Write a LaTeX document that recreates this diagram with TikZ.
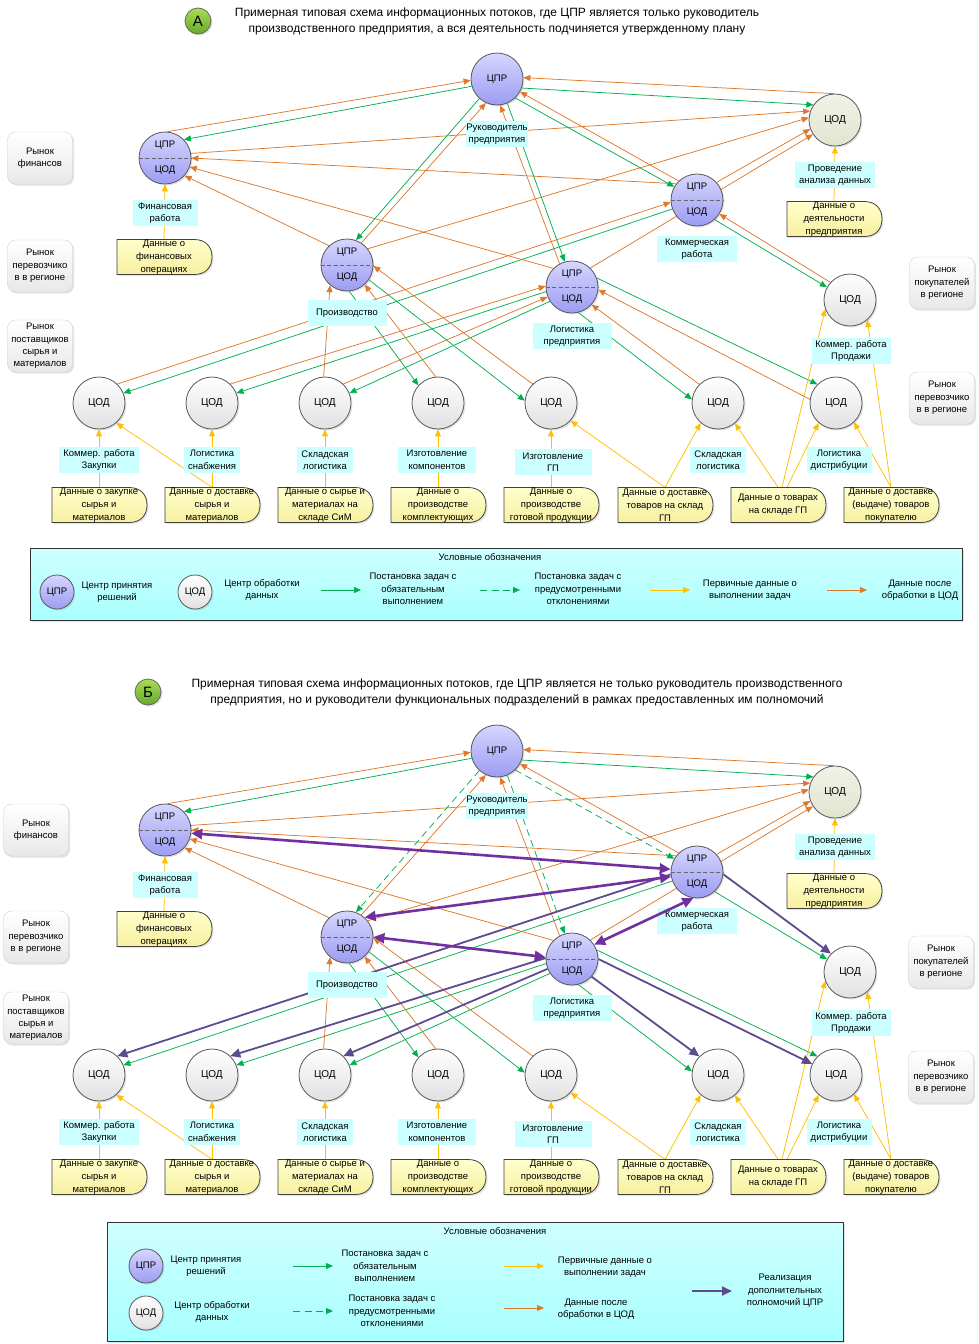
\documentclass[tikz,border=0pt]{standalone}
\usepackage{fontspec}
\setmainfont{Liberation Sans}
\usetikzlibrary{arrows.meta,shadows,calc}
\pgfdeclarelayer{bgl}
\pgfdeclarelayer{edges}
\pgfsetlayers{bgl,edges,main}
\definecolor{orng}{HTML}{DD7A2C}
\definecolor{grn}{HTML}{00B050}
\definecolor{ylw}{HTML}{FFC000}
\definecolor{purT}{HTML}{7030A0}
\definecolor{purM}{HTML}{5E4A8E}
\definecolor{lcyan}{HTML}{CCFFFF}
\definecolor{legc}{HTML}{A8FFFF}
\definecolor{cprT}{HTML}{D6D6FF}
\definecolor{cprB}{HTML}{9C9CF2}
\definecolor{anF}{HTML}{E2E4D0}
\definecolor{docT}{HTML}{FFFFCC}
\definecolor{docB}{HTML}{F7F0A0}
\definecolor{bdgT}{HTML}{A8DC55}
\definecolor{bdgB}{HTML}{66AA2C}
\tikzset{
 shd/.style={drop shadow={opacity=0.22, shadow xshift=1.5pt, shadow yshift=-1.5pt}},
 cprc/.style={circle, draw=black!65, line width=0.8pt, minimum size=52pt, inner sep=0pt, top color=cprT, bottom color=cprB, shd},
 codc/.style={circle, draw=black!65, line width=0.8pt, minimum size=52pt, inner sep=0pt, top color=white, bottom color=black!12, shd, font=\fontsize{10}{12}\selectfont},
 ctx/.style={inner sep=0pt, font=\fontsize{9.5}{12}\selectfont},
 lbl/.style={fill=lcyan, inner sep=0pt, align=center, minimum height=26pt},
 mkt/.style={rounded corners=8pt, draw=black!18, top color=white, bottom color=black!9, minimum width=65pt, minimum height=52pt, inner sep=0pt, align=center, shd, font=\fontsize{9.5}{12.3}\selectfont},
 docshape/.style={draw=black!75, line width=0.8pt, top color=docT, bottom color=docB, shd},
 doctext/.style={inner sep=0pt, minimum width=95pt, minimum height=35pt, align=center, font=\fontsize{9.5}{12.8}\selectfont},
 legbox/.style={draw=black!80, line width=1pt, top color=legc!55, bottom color=legc, shd},
 lt/.style={align=center, inner sep=0pt},
 ttl/.style={align=center, inner sep=0pt, font=\fontsize{12}{16}\selectfont},
 bdg/.style={circle, draw=black!60, line width=0.8pt, minimum size=26pt, inner sep=0pt, top color=bdgT, bottom color=bdgB, shd, font=\fontsize{15}{15}\selectfont},
 ar/.style={-{Triangle[length=7pt,width=6pt]}, line width=0.75pt},
 og/.style={ar, draw=orng, fill=none},
 gr/.style={ar, draw=grn},
 gd/.style={ar, draw=grn, dash pattern=on 7pt off 4.5pt},
 yl/.style={ar, draw=ylw},
 ptk/.style={{Triangle[length=11pt,width=10pt]}-{Triangle[length=11pt,width=10pt]}, draw=purT, line width=2.6pt},
 pmd/.style={-{Triangle[length=10pt,width=9pt]}, draw=purM, line width=1.8pt},
}
\newcommand\splitnode[3]{%
  \node[cprc] (#1) at (#2,#3) {};
  \draw[black!60, line width=0.9pt, dash pattern=on 4pt off 2.5pt] (#1.west) -- (#1.east);
  \node[ctx] (#1-t) at (#2,#3-12.5) {ЦПР};
  \node[ctx] (#1-b) at (#2,#3+12.5) {ЦОД};}
\newcommand\docnode[4]{%
  \path[docshape] (#2-47,#3-17.5) -- (#2+30,#3-17.5) .. controls (#2+42,#3-17.5) and (#2+48,#3-10) .. (#2+48,#3) .. controls (#2+48,#3+10) and (#2+42,#3+17.5) .. (#2+30,#3+17.5) -- (#2-47,#3+17.5) -- cycle;
  \node[doctext] (#1) at (#2,#3) {#4};}
\newcommand\commonpanel[1]{%
  \node[cprc, font=\fontsize{9.5}{12}\selectfont] (#1R) at (497,79) {ЦПР};
  \node[codc, top color=anF!50, bottom color=anF] (#1AN) at (835,120) {ЦОД};
  \splitnode{#1F}{165}{158}
  \splitnode{#1K}{697}{200}
  \splitnode{#1P}{347}{265}
  \splitnode{#1L}{572}{287}
  \node[codc] (#1S) at (850,300) {ЦОД};
  \node[codc] (#1B1) at (99,403) {ЦОД};
  \node[codc] (#1B2) at (212,403) {ЦОД};
  \node[codc] (#1B3) at (325,403) {ЦОД};
  \node[codc] (#1B4) at (438,403) {ЦОД};
  \node[codc] (#1B5) at (551,403) {ЦОД};
  \node[codc] (#1B6) at (718,403) {ЦОД};
  \node[codc] (#1B7) at (836,403) {ЦОД};
  \node[lbl, minimum width=62pt] (#1lR) at (497,134) {Руководитель\\предприятия};
  \node[lbl, minimum width=80pt] (#1lAN) at (835,175) {Проведение\\анализа данных};
  \node[lbl, minimum width=65pt] (#1lF) at (165,213) {Финансовая\\работа};
  \node[lbl, minimum width=80pt] (#1lK) at (697,249) {Коммерческая\\работа};
  \node[lbl, minimum width=79pt] (#1lP) at (347,313) {Производство};
  \node[lbl, minimum width=79pt] (#1lL) at (572,336) {Логистика\\предприятия};
  \node[lbl, minimum width=79pt] (#1lS) at (851,351) {Коммер. работа\\Продажи};
  \node[lbl, minimum width=80pt] (#1lB1) at (99,460) {Коммер. работа\\Закупки};
  \node[lbl, minimum width=56pt] (#1lB2) at (212,460) {Логистика\\снабжения};
  \node[lbl, minimum width=56pt] (#1lB3) at (325,460) {Складская\\логистика};
  \node[lbl, minimum width=78pt] (#1lB4) at (437,460) {Изготовление\\компонентов};
  \node[lbl, minimum width=77pt] (#1lB5) at (553,462) {Изготовление\\ГП};
  \node[lbl, minimum width=56pt] (#1lB6) at (718,460) {Складская\\логистика};
  \node[lbl, minimum width=65pt] (#1lB7) at (839,460) {Логистика\\дистрибуции};
  \docnode{#1dF}{164}{257}{Данные о\\финансовых\\операциях}
  \docnode{#1dAN}{834}{219}{Данные о\\деятельности\\предприятия}
  \docnode{#1d1}{99}{505}{Данные о закупке\\сырья и\\материалов}
  \docnode{#1d2}{212}{505}{Данные о доставке\\сырья и\\материалов}
  \docnode{#1d3}{325}{505}{Данные о сырье и\\материалах на\\складе СиМ}
  \docnode{#1d4}{438}{505}{Данные о\\производстве\\комплектующих}
  \docnode{#1d5}{551}{505}{Данные о\\производстве\\готовой продукции}
  \docnode{#1d6}{665}{505}{Данные о доставке\\товаров на склад\\ГП}
  \docnode{#1d7}{778}{505}{Данные о товарах\\на складе ГП}
  \docnode{#1d8}{891}{505}{Данные о доставке\\(выдаче) товаров\\покупателю}
}
\newcommand\commonedges[1]{%
  \draw[og] (#1F.85) -- (#1R.183);
  \draw[gr] (#1R.196) -- (#1F.44);
  \draw[og] (#1AN.93) -- (#1R.3);
  \draw[gr] (#1R.340) -- (#1AN.145);
  \draw[og] (#1K.134) -- (#1R.331);
  \draw[og] (#1L.118) -- (#1R.277);
  \draw[og] (#1P.57) -- (#1R.245);
  \draw[og] (#1F.10) -- (#1AN.160);
  \draw[og] (#1K.142) -- (#1F.0);
  \draw[og] (#1L.135) -- (#1F.340);
  \draw[og] (#1P.133) -- (#1F.318);
  \draw[og] (#1P.38) -- (#1AN.175);
  \draw[og] (#1K.42) -- (#1AN.200);
  \draw[og] (#1L.46) -- (#1AN.213);
  \draw[gr] (#1K.200) -- (#1B1.22);
  \draw[gr] (#1L.190) -- (#1B2.22);
  \draw[gr] (#1L.213) -- (#1B3.22);
  \draw[og] (#1B3.93) -- (#1P.230);
  \draw[og] (#1B4.95) -- (#1P.312);
  \draw[gr] (#1P.275) -- (#1B4.138);
  \draw[og] (#1B5.134) -- (#1P.358);
  \draw[gr] (#1P.326) -- (#1B5.175);
  \draw[gr] (#1L.284) -- (#1B6.172);
  \draw[gr] (#1L.20) -- (#1B7.135);
  \draw[gr] (#1K.312) -- (#1S.151);
  \draw[yl] (#1dF.north) -- (#1F.south);
  \draw[yl] (#1dAN.north) -- (#1AN.south);
  \draw[yl] (#1d1.north) -- (#1B1.south);
  \draw[yl] (#1d2.north) -- (#1B2.south);
  \draw[yl] (#1d2.north) -- (#1B1.311);
  \draw[yl] (#1d3.north) -- (#1B3.south);
  \draw[yl] (#1d4.north) -- (#1B4.south);
  \draw[yl] (#1d5.north) -- (#1B5.south);
  \draw[yl] (#1d6.north) -- (#1B5.318);
  \draw[yl] (#1d6.north) -- (#1B6.229);
  \draw[yl] (#1d7.north) -- (#1B6.310);
  \draw[yl] ($(#1d7.north)+(9,0)$) -- (#1B7.229);
  \draw[yl] ($(#1d7.north)+(4,0)$) -- (#1S.200);
  \draw[yl] (#1d8.north) -- (#1B7.313);
  \draw[yl] (#1d8.north) -- (#1S.311);
}
\begin{document}
\begin{tikzpicture}[x=1pt,y=-1pt,font=\fontsize{9.5}{12.5}\selectfont]
\useasboundingbox (0,0) rectangle (979,1344);
\begin{pgfonlayer}{bgl}
\fill[white] (0,0) rectangle (979,1344);
\end{pgfonlayer}
% ---------------- panel A ----------------
\node[bdg] (a-badge) at (198,21) {А};
\node[ttl] (a-title) at (497,21) {Примерная типовая схема информационных потоков, где ЦПР является только руководитель\\производственного предприятия, а вся деятельность подчиняется утвержденному плану};
\commonpanel{a-}
\node[mkt] (a-m1) at (40,158) {Рынок\\финансов};
\node[mkt] (a-m2) at (40,266) {Рынок\\перевозчико\\в в регионе};
\node[mkt] (a-m3) at (40,346) {Рынок\\поставщиков\\сырья и\\материалов};
\node[mkt] (a-m4) at (942,283) {Рынок\\покупателей\\в регионе};
\node[mkt] (a-m5) at (942,398) {Рынок\\перевозчико\\в в регионе};
\begin{pgfonlayer}{edges}
  \commonedges{a-}
  \draw[gr] (a-R.314) -- (a-K.150);
  \draw[gr] (a-R.293) -- (a-L.106);
  \draw[gr] (a-R.228) -- (a-P.70);
  \draw[og] (a-B1.46) -- (a-K.185);
  \draw[og] (a-B2.46) -- (a-L.178);
  \draw[og] (a-B3.46) -- (a-L.202);
  \draw[og] (a-B6.135) -- (a-L.318);
  \draw[og] (a-B7.172) -- (a-L.354);
  \draw[og] (a-S.138) -- (a-K.328);
\end{pgfonlayer}
% legend A
\node[legbox, minimum width=932pt, minimum height=72pt, inner sep=0pt] (a-leg) at (496,584) {};
\node[lt] (a-legt) at (490,557) {Условные обозначения};
\node[cprc, minimum size=34pt] (a-lg1) at (57,592) {ЦПР};
\node[lt] (a-lg1t) at (117,592) {Центр принятия\\решений};
\node[codc, minimum size=34pt, font=\fontsize{9.5}{12}\selectfont] (a-lg2) at (195,592) {ЦОД};
\node[lt] (a-lg2t) at (262,590) {Центр обработки\\данных};
\coordinate (a-l1s) at (321,590); \coordinate (a-l1e) at (361,590);
\draw[gr] (a-l1s) -- (a-l1e);
\node[lt] (a-l1t) at (413,589) {Постановка задач с\\обязательным\\выполнением};
\coordinate (a-l2s) at (480,590); \coordinate (a-l2e) at (520,590);
\draw[gd] (a-l2s) -- (a-l2e);
\node[lt] (a-l2t) at (578,589) {Постановка задач с\\предусмотренными\\отклонениями};
\coordinate (a-l3s) at (650,590); \coordinate (a-l3e) at (690,590);
\draw[yl] (a-l3s) -- (a-l3e);
\node[lt] (a-l3t) at (750,590) {Первичные данные о\\выполнении задач};
\coordinate (a-l4s) at (827,590); \coordinate (a-l4e) at (867,590);
\draw[og] (a-l4s) -- (a-l4e);
\node[lt] (a-l4t) at (920,590) {Данные после\\обработки в ЦОД};
% ---------------- panel B ----------------
\node[bdg] (b-badge) at (148,692) {Б};
\node[ttl] (b-title) at (517,692) {Примерная типовая схема информационных потоков, где ЦПР является не только руководитель производственного\\предприятия, но и руководители функциональных подразделений в рамках предоставленных им полномочий};
\begin{scope}[shift={(0,672)}]
\commonpanel{b-}
\end{scope}
\node[mkt] (b-m1) at (36,830) {Рынок\\финансов};
\node[mkt] (b-m2) at (36,937) {Рынок\\перевозчико\\в в регионе};
\node[mkt] (b-m3) at (36,1018) {Рынок\\поставщиков\\сырья и\\материалов};
\node[mkt] (b-m4) at (941,962) {Рынок\\покупателей\\в регионе};
\node[mkt] (b-m5) at (941,1077) {Рынок\\перевозчико\\в в регионе};
\begin{pgfonlayer}{edges}
  \commonedges{b-}
  \draw[gd] (b-R.314) -- (b-K.150);
  \draw[gd] (b-R.293) -- (b-L.106);
  \draw[gd] (b-R.228) -- (b-P.70);
  \draw[pmd] (b-K.185) -- (b-B1.46);
  \draw[pmd] (b-L.178) -- (b-B2.46);
  \draw[pmd] (b-L.202) -- (b-B3.46);
  \draw[pmd] (b-L.318) -- (b-B6.135);
  \draw[pmd] (b-L.0) -- (b-B7.155);
  \draw[pmd] (b-K.355) -- (b-S.136);
\end{pgfonlayer}
\draw[ptk] (b-F.353) -- (b-K.174);
\draw[ptk] (b-P.48) -- (b-K.190);
\draw[ptk] (b-P.0) -- (b-L.176);
\draw[ptk] (b-K.262) -- (b-L.33);
% legend B
\node[legbox, minimum width=736pt, minimum height=119pt, inner sep=0pt] (b-leg) at (475,1281.5) {};
\node[lt] (b-legt) at (495,1231) {Условные обозначения};
\node[cprc, minimum size=34pt] (b-lg1) at (146,1266) {ЦПР};
\node[lt] (b-lg1t) at (206,1266) {Центр принятия\\решений};
\node[codc, minimum size=34pt, font=\fontsize{9.5}{12}\selectfont] (b-lg2) at (146,1313) {ЦОД};
\node[lt] (b-lg2t) at (212,1312) {Центр обработки\\данных};
\coordinate (b-l1s) at (293,1266); \coordinate (b-l1e) at (333,1266);
\draw[gr] (b-l1s) -- (b-l1e);
\node[lt] (b-l1t) at (385,1266) {Постановка задач с\\обязательным\\выполнением};
\coordinate (b-l2s) at (293,1311); \coordinate (b-l2e) at (333,1311);
\draw[gd] (b-l2s) -- (b-l2e);
\node[lt] (b-l2t) at (392,1311) {Постановка задач с\\предусмотренными\\отклонениями};
\coordinate (b-l3s) at (504,1266); \coordinate (b-l3e) at (544,1266);
\draw[yl] (b-l3s) -- (b-l3e);
\node[lt] (b-l3t) at (605,1267) {Первичные данные о\\выполнении задач};
\coordinate (b-l4s) at (504,1308); \coordinate (b-l4e) at (544,1308);
\draw[og] (b-l4s) -- (b-l4e);
\node[lt] (b-l4t) at (596,1309) {Данные после\\обработки в ЦОД};
\coordinate (b-l5s) at (692,1291); \coordinate (b-l5e) at (732,1291);
\draw[pmd] (b-l5s) -- (b-l5e);
\node[lt] (b-l5t) at (785,1291) {Реализация\\дополнительных\\полномочий ЦПР};
\end{tikzpicture}
\end{document}
